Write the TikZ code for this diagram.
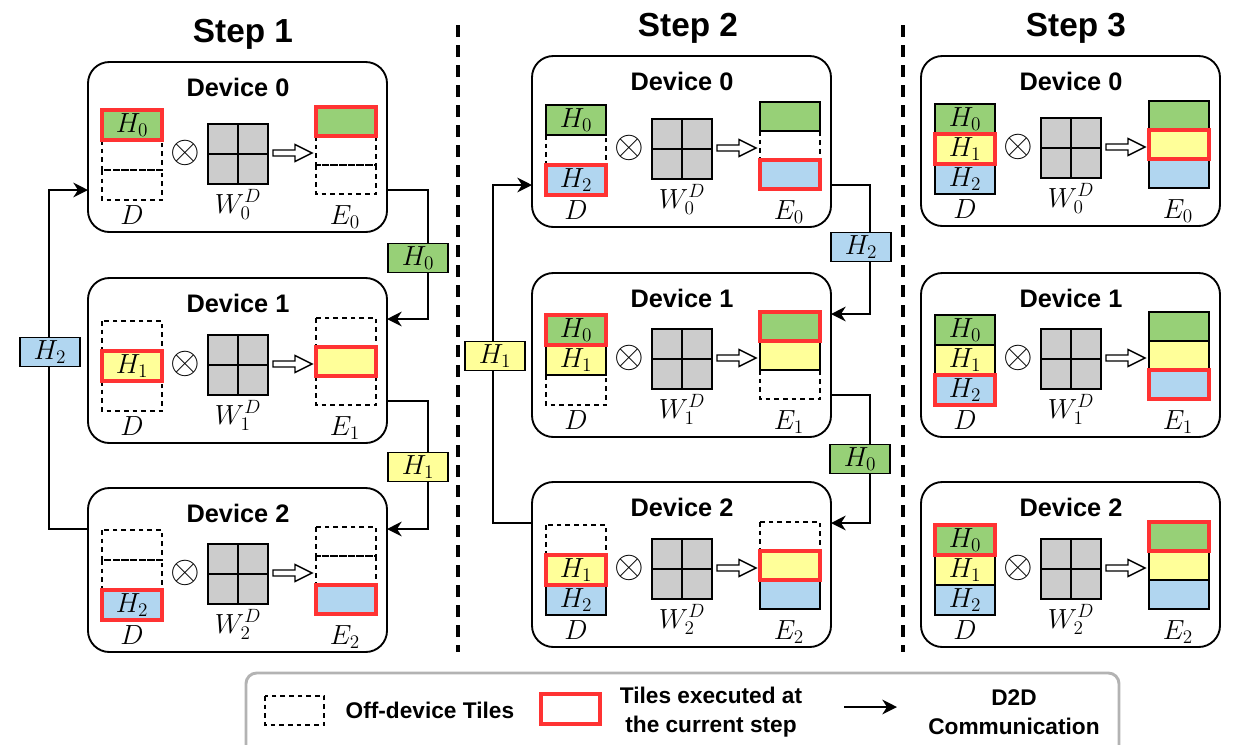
\documentclass[tikz,border=0pt]{standalone}
\usepackage{amsmath}
\usepackage{fontspec}
\usepackage{tikz}
\usetikzlibrary{arrows.meta}
\newfontfamily\sansLabel{Liberation Sans}
\tikzstyle{canvas} = [x = 0.75pt, y = -0.75pt]
\definecolor{tile0}{HTML}{97D077}
\definecolor{tile1}{HTML}{FFFF99}
\definecolor{tile2}{HTML}{B1D6F0}
\definecolor{execRed}{HTML}{FF3333}
\definecolor{matrixGray}{HTML}{CCCCCC}
\definecolor{legendGray}{HTML}{B3B3B3}
\tikzstyle{deviceStyle} = [draw=black, fill=white, line width=1.4pt, rounded corners=16pt, inner sep=0pt, outer sep=0pt]
\tikzstyle{deviceTitle} = [font=\sansLabel\bfseries\fontsize{19}{22}\selectfont, anchor=base]
\tikzstyle{stepTitle} = [font=\sansLabel\bfseries\fontsize{25}{30}\selectfont, anchor=base]
\tikzstyle{legendText} = [font=\sansLabel\bfseries\fontsize{17}{22}\selectfont, align=center]
\tikzstyle{mathLabel} = [font=\fontsize{20.74}{24}\selectfont, anchor=base, inner sep=0pt]
\tikzstyle{otimesStyle} = [font=\fontsize{24.88}{28}\selectfont, inner sep=0pt, scale=1.15, transform shape]
\tikzstyle{tileText} = [font=\fontsize{20.74}{24}\selectfont, midway]
\tikzstyle{offTile} = [draw=black, dash pattern=on 3.5pt off 3pt, line width=1.1pt]
\tikzstyle{heldTile} = [draw=black, line width=1.1pt]
\tikzstyle{execTile} = [draw=execRed, line width=2.3pt]
\tikzstyle{matrixStyle} = [draw=black, fill=matrixGray, line width=1.4pt]
\tikzstyle{hollowArrow} = [draw=black, fill=white, line width=1.1pt]
\tikzstyle{commArrow} = [draw=black, line width=1.3pt, -{Stealth[length=11pt, width=11pt, inset=3.5pt]}]
\tikzstyle{commTile} = [draw=black, line width=1.1pt, minimum width=45pt, minimum height=22pt, inner sep=0pt, font=\fontsize{20.74}{24}\selectfont]
\tikzstyle{separator} = [draw=black, line width=3pt, dash pattern=on 9pt off 6pt]
\tikzstyle{legendStyle} = [draw=legendGray, line width=2.2pt, rounded corners=8pt]
% states: 0 off-device, 1 held, 2 executed
\newcommand{\tileColumn}[5]{
  \foreach \tilePass in {0,1,2} {
    \foreach \tileState [count=\k from 0] in {#4} {
      \ifnum\tileState=\tilePass
        \pgfmathsetmacro{\yTop}{#2 + \k * #3}
        \ifcase\tileState
          \draw [offTile] (#1, \yTop) rectangle + (60, #3);
        \or
          \filldraw [heldTile, fill=tile\k] (#1, \yTop) rectangle + (60, #3) node [tileText] {#5};
        \or
          \filldraw [execTile, fill=tile\k] (#1, \yTop) rectangle + (60, #3) node [tileText] {#5};
        \fi
      \fi
    }
  }
}
\newcommand{\weightMatrix}[2]{
  \filldraw [matrixStyle] (#1 - 30, #2 - 30) rectangle + (60, 60);
  \draw [matrixStyle] (#1, #2 - 30) -- + (0, 60);
  \draw [matrixStyle] (#1 - 30, #2) -- + (60, 0);
}
\newcommand{\hollowArrowAt}[2]{
  \filldraw [hollowArrow] (#1, #2 - 3) -- (#1 + 22, #2 - 3) -- (#1 + 22, #2 - 8.5) -- (#1 + 39, #2)
    -- (#1 + 22, #2 + 8.5) -- (#1 + 22, #2 + 3) -- (#1, #2 + 3) -- cycle;
}
\newcommand{\device}[6]{
  \node [deviceStyle, minimum width = 299 * 0.75pt, minimum height = #4 * 0.75pt, anchor = north west] (#1) at (#2, #3) {};
  \node [deviceTitle] (#1Title) at (#2 + 150, #3 + 34) {Device #5};
  \tileColumn{#2 + 14}{#3 + #4 - 122}{30}{#6}{$H_{\k}$}
  \tileColumn{#2 + 228}{#3 + #4 - 125}{29}{#6}{}
  \node [otimesStyle] (#1Otimes) at (#2 + 97, #3 + #4 - 79) {$\otimes$};
  \weightMatrix{#2 + 150}{#3 + #4 - 78}
  \hollowArrowAt{#2 + 185}{#3 + #4 - 79}
  \node [mathLabel] (#1D) at (#2 + 44, #3 + #4 - 8) {$D$};
  \node [mathLabel] (#1W) at (#2 + 150, #3 + #4 - 19) {$W_{#5}^{D}$};
  \node [mathLabel] (#1E) at (#2 + 257, #3 + #4 - 8) {$E_{#5}$};
  \coordinate (#1In) at (#2 + 299, #3 + 41);
  \coordinate (#1Out) at (#2 + 299, #3 + #4 - 42);
  \coordinate (#1Front) at (#2, #3 + #4 - 42);
  \coordinate (#1Back) at (#2, #3 + 41);
}

\begin{document}
\begin{tikzpicture}[canvas]
  \useasboundingbox (0, 0) rectangle (1236, 744);
  \clip (0, 0) rectangle (1236, 744);

  \node [stepTitle] (step1) at (243, 42) {Step 1};
  \node [stepTitle] (step2) at (688, 36) {Step 2};
  \node [stepTitle] (step3) at (1076, 36) {Step 3};
  \draw [separator] (458, 25) -- (458, 652);
  \draw [separator] (903, 25) -- (903, 652);

  % Step 1
  \device{s1d0}{88}{62}{170}{0}{2,0,0}
  \device{s1d1}{88}{278}{165}{1}{0,2,0}
  \device{s1d2}{88}{488}{164}{2}{0,0,2}
  \draw [commArrow] (s1d0Out) -- ++(41, 0) |- (s1d1In);
  \draw [commArrow] (s1d1Out) -- ++(41, 0) |- (s1d2In);
  \draw [commArrow] (s1d2Back) -- ++(-39, 0) |- (s1d0Front);
  \node [commTile, fill=tile0] (s1h0) at (418, 258) {$H_0$};
  \node [commTile, fill=tile1] (s1h1) at (418, 467) {$H_1$};
  \node [commTile, fill=tile2] (s1h2) at (50, 352) {$H_2$};

  % Step 2
  \device{s2d0}{532}{56}{171}{0}{1,0,2}
  \device{s2d1}{532}{273}{164}{1}{2,1,0}
  \device{s2d2}{532}{482}{165}{2}{0,2,1}
  \draw [commArrow] (s2d0Out) -- ++(39, 0) |- (s2d1In);
  \draw [commArrow] (s2d1Out) -- ++(39, 0) |- (s2d2In);
  \draw [commArrow] (s2d2Back) -- ++(-39, 0) |- (s2d0Front);
  \node [commTile, fill=tile2] (s2h2) at (861, 247) {$H_2$};
  \node [commTile, fill=tile0] (s2h0) at (860, 459) {$H_0$};
  \node [commTile, fill=tile1] (s2h1) at (495, 356) {$H_1$};

  % Step 3
  \device{s3d0}{921}{56}{170}{0}{1,2,1}
  \device{s3d1}{921}{273}{164}{1}{1,1,2}
  \device{s3d2}{921}{482}{165}{2}{2,1,1}

  % legend
  \draw [legendStyle] (246, 673) rectangle (1119, 770);
  \draw [offTile] (265, 696) rectangle (324, 725);
  \node [legendText, anchor=west] (offText) at (341, 710) {Off-device Tiles};
  \draw [execTile] (541, 694) rectangle (600, 724);
  \node [legendText] (execText) at (711, 712) {Tiles executed at\\the current step};
  \coordinate (commStart) at (844, 707);
  \coordinate (commEnd) at (897, 707);
  \draw [commArrow] (commStart) -- (commEnd);
  \node [legendText] (commText) at (1014, 712) {D2D\\Communication};
\end{tikzpicture}
\end{document}
